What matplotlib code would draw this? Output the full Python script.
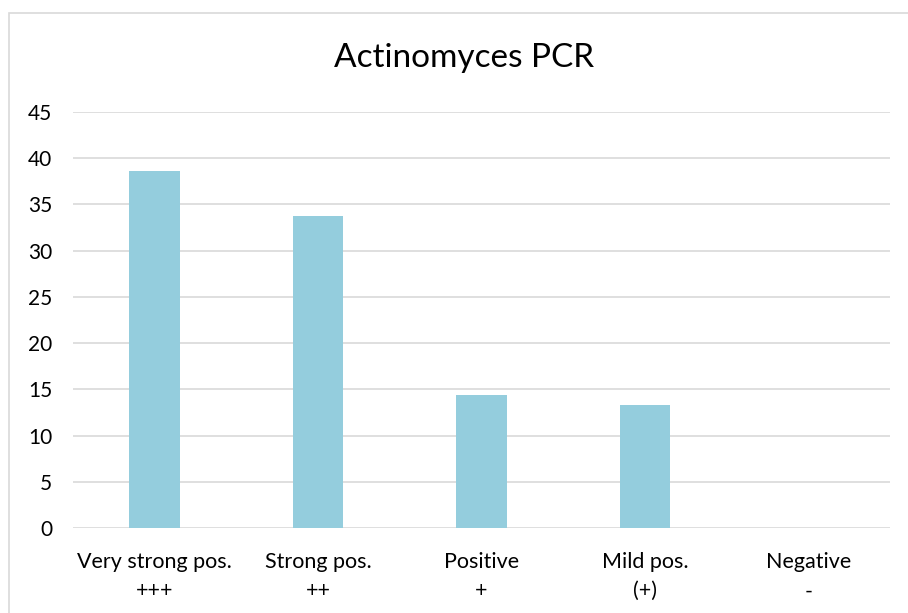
import matplotlib
matplotlib.use('Agg')
import matplotlib.pyplot as plt
from matplotlib.patches import Rectangle

categories = ['Very strong pos.\n+++', 'Strong pos.\n++', 'Positive\n+', 'Mild pos.\n(+)', 'Negative\n-']
values = [38.6, 33.7, 14.4, 13.3, 0]
yticks = [0, 5, 10, 15, 20, 25, 30, 35, 40, 45]

plt.rcParams['font.family'] = ['Lato', 'DejaVu Sans']

W, H = 908, 613
fig = plt.figure(figsize=(W / 100, H / 100), dpi=100)
ax = fig.add_axes([73 / W, 1 - 528 / H, (890 - 73) / W, (528 - 112) / H])

x = list(range(len(categories)))
ax.bar(x, values, width=0.31, color='#94CDDD', zorder=3)

ax.set_xlim(-0.5, len(categories) - 0.5)
ax.set_ylim(0, 45)
ax.set_yticks(yticks)
ax.set_xticks(x)
ax.set_xticklabels(categories, fontsize=15.5, linespacing=1.6)
ax.tick_params(axis='y', labelsize=15, length=0, pad=15)
ax.tick_params(axis='x', length=0, pad=17)
ax.grid(axis='y', color='#D9D9D9', linewidth=1.2, zorder=0)
for s in ax.spines.values():
    s.set_visible(False)

fig.text(464 / W, 1 - 58 / H, 'Actinomyces PCR', fontsize=24, ha='center', va='center')

# chart frame (only top/left edges visible in the crop)
fig.patches.append(Rectangle((8.5 / W, -0.1), 2, 1.1 - 13.5 / H, transform=fig.transFigure,
                             fill=False, edgecolor='#D9D9D9', linewidth=1.2))

fig.savefig('out.png', dpi=100)
